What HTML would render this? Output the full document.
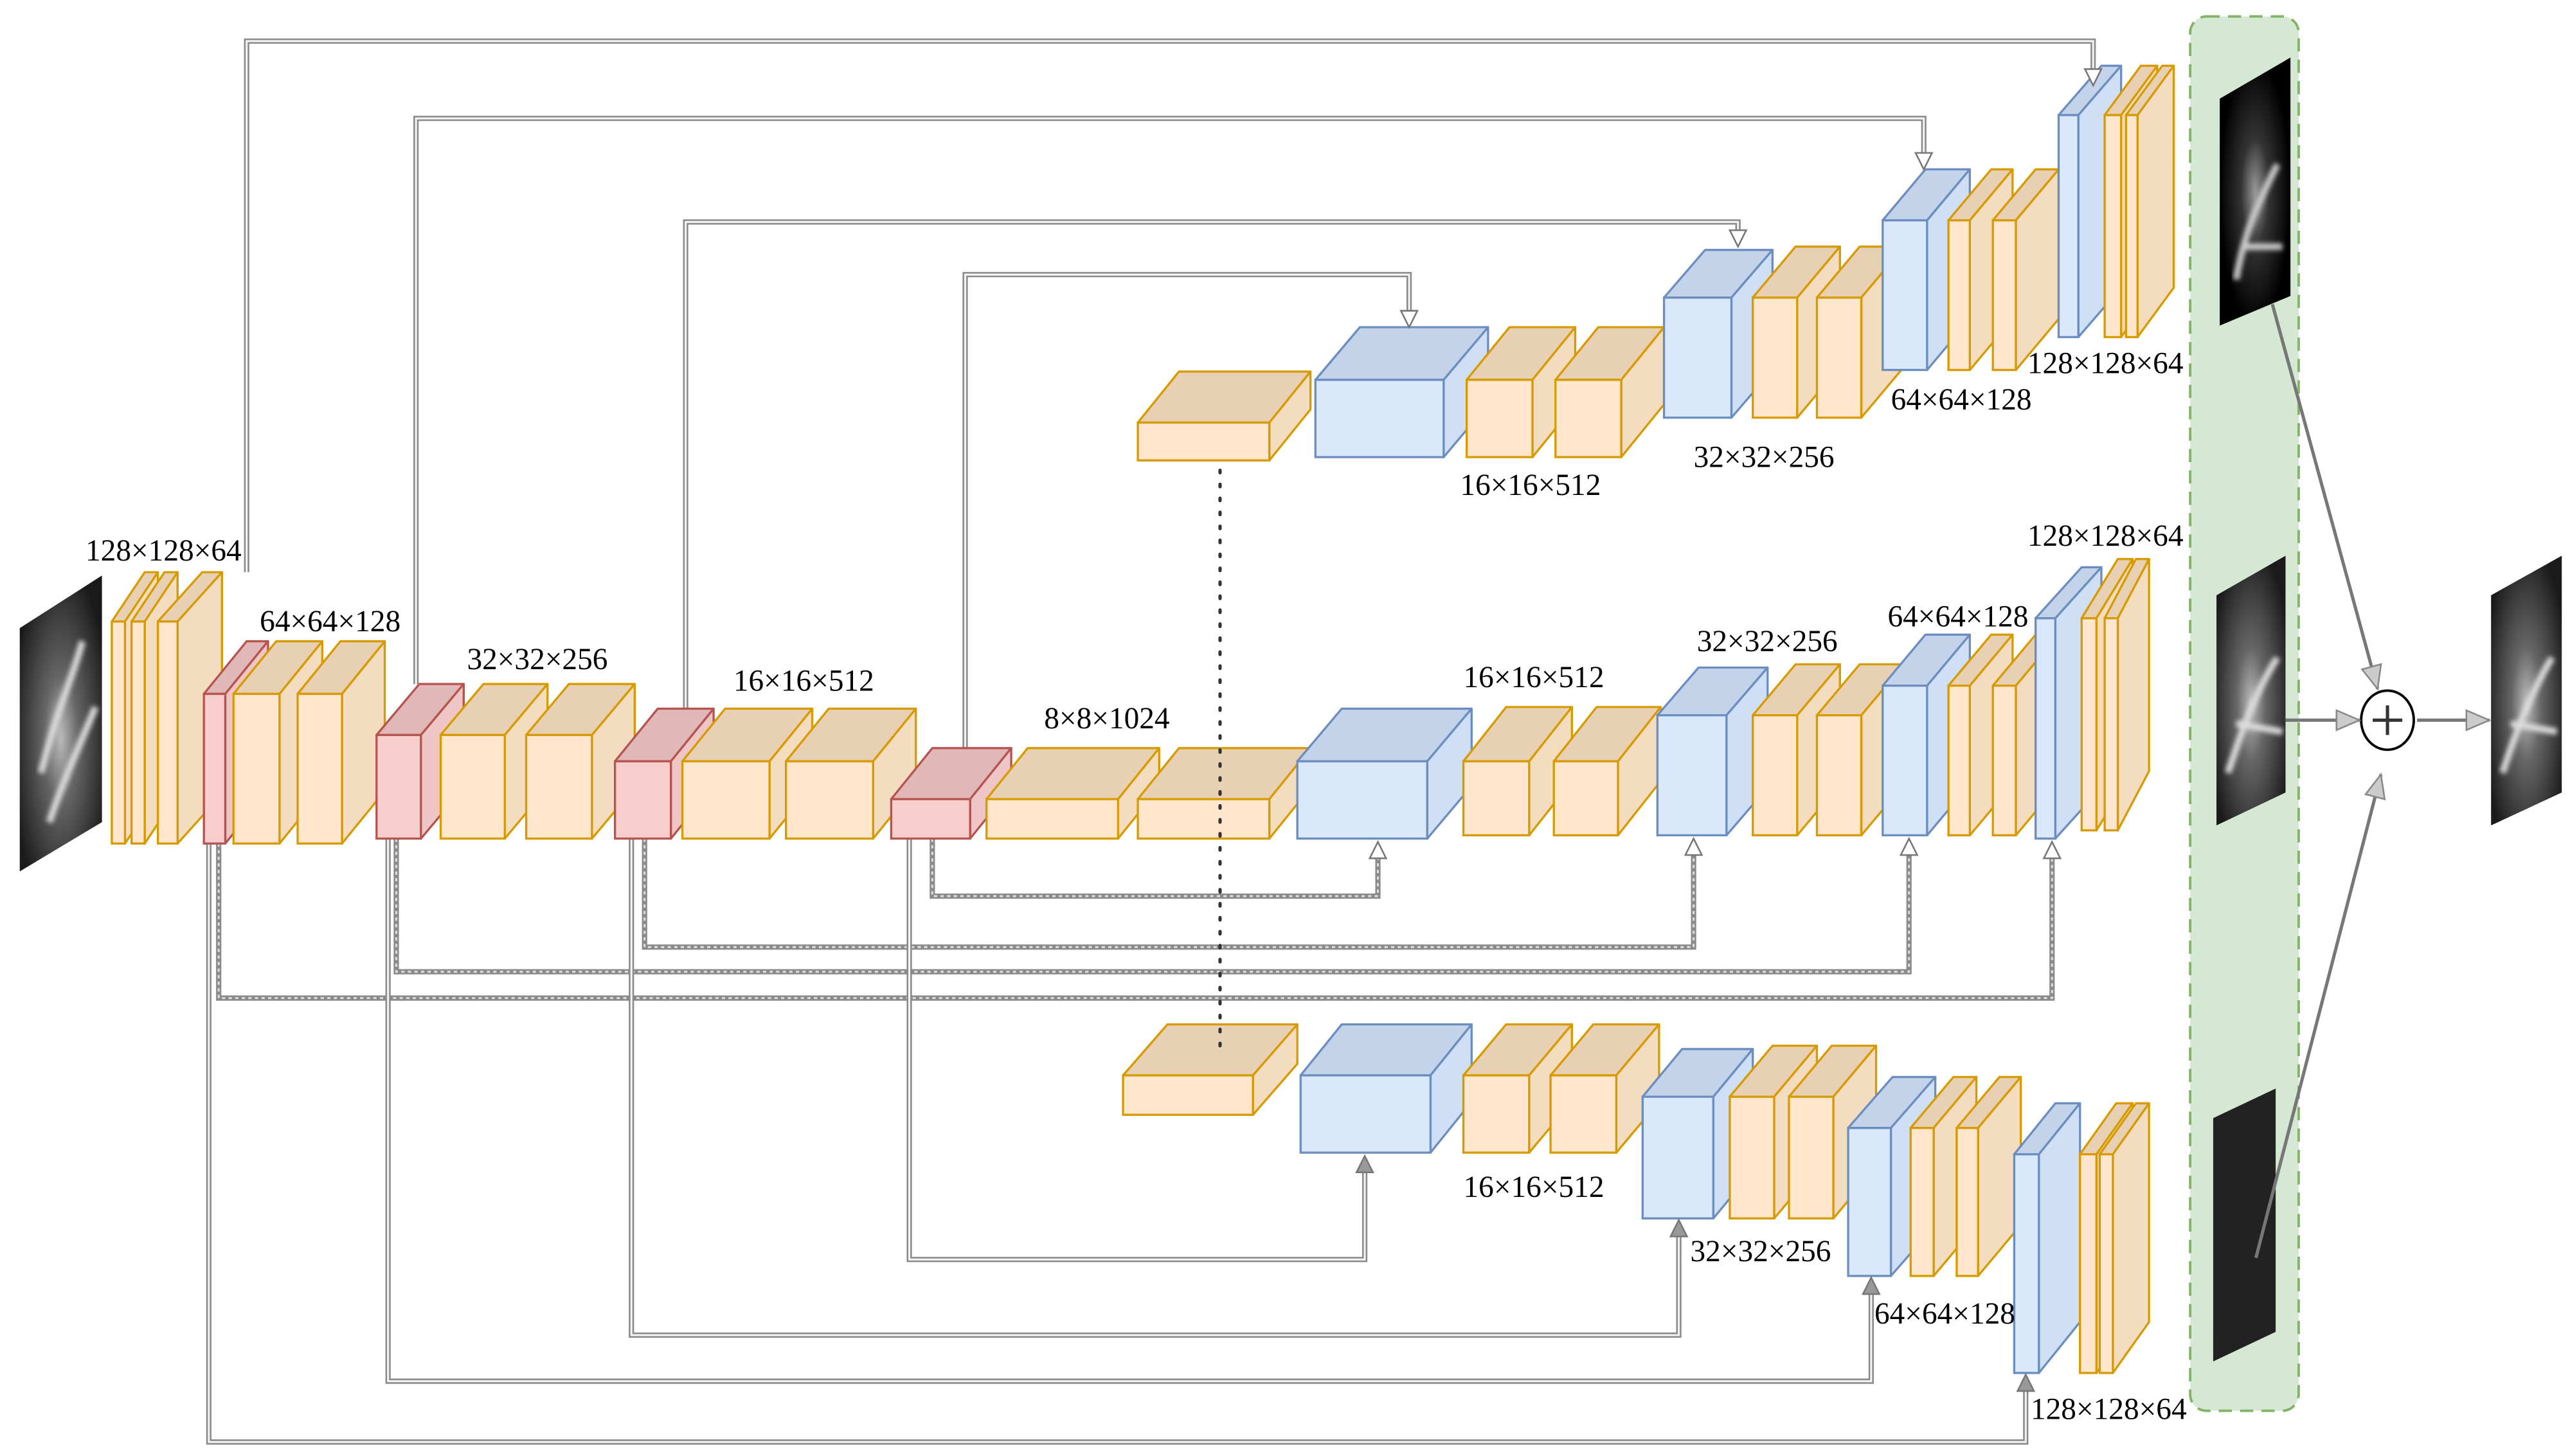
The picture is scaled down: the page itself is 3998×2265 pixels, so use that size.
<!DOCTYPE html>
<html><head><meta charset="utf-8"><style>
html,body{margin:0;padding:0;background:#fff;}
svg{display:block;}
text{font-family:"Liberation Serif",serif;font-size:18.5px;fill:#000;}
</style></head><body>
<svg id="s" width="3998" height="2265" viewBox="0 0 1563 885.5" xmlns="http://www.w3.org/2000/svg">
<defs>
<radialGradient id="car" cx="0.5" cy="0.55" r="0.6">
<stop offset="0" stop-color="#bbb"/><stop offset="0.35" stop-color="#666"/><stop offset="1" stop-color="#1a1a1a"/>
</radialGradient>
<radialGradient id="car2" cx="0.5" cy="0.5" r="0.5">
<stop offset="0" stop-color="#999"/><stop offset="0.4" stop-color="#333"/><stop offset="1" stop-color="#000"/>
</radialGradient>
<filter id="bl"><feGaussianBlur stdDeviation="1.5"/></filter>
</defs>
<rect x="1332" y="10" width="66" height="848" rx="10" fill="#d5e8d4" stroke="#82b366" stroke-width="1.5" stroke-dasharray="8,5"/>
<g id="conn"></g>
<g id="boxes"></g>
<line x1="742" y1="286" x2="742" y2="640" stroke="#333" stroke-width="2" stroke-dasharray="1.5,7" stroke-linecap="round"/>
<polygon points="12,382 62,350 62,500 12,530" fill="url(#car)"/>
<path d="M25,470 C35,430 45,410 50,390 M30,500 C40,470 50,450 58,430" stroke="#ddd" stroke-width="4" fill="none" filter="url(#bl)"/>
<polygon points="1350,60 1393,35 1393,180 1350,198" fill="url(#car2)"/>
<path d="M1360,170 C1365,140 1375,120 1385,100 M1365,150 L1388,150" stroke="#ccc" stroke-width="4" fill="none" filter="url(#bl)"/>
<polygon points="1348,362 1390,338 1390,482 1348,502" fill="url(#car)"/>
<path d="M1355,470 C1365,440 1372,420 1385,400 M1360,440 L1388,445" stroke="#ddd" stroke-width="4" fill="none" filter="url(#bl)"/>
<polygon points="1346,680 1384,662 1384,810 1346,828" fill="#222"/>
<polygon points="1515,362 1558,338 1558,482 1515,502" fill="url(#car)"/>
<path d="M1522,470 C1532,440 1540,420 1552,400 M1527,440 L1555,445" stroke="#ddd" stroke-width="4" fill="none" filter="url(#bl)"/>
<ellipse cx="1452" cy="438" rx="16" ry="18" fill="#fff" stroke="#000" stroke-width="1.5"/>
<path d="M1443,438 H1461 M1452,429 V447" stroke="#333" stroke-width="2"/>
<g id="arr"></g>
<text x="52" y="341">128×128×64</text>
<text x="158" y="384">64×64×128</text>
<text x="284" y="407">32×32×256</text>
<text x="446" y="420">16×16×512</text>
<text x="635" y="443">8×8×1024</text>
<text x="890" y="418">16×16×512</text>
<text x="1032" y="396">32×32×256</text>
<text x="1148" y="381">64×64×128</text>
<text x="1233" y="332">128×128×64</text>
<text x="888" y="301">16×16×512</text>
<text x="1030" y="284">32×32×256</text>
<text x="1150" y="249">64×64×128</text>
<text x="1233" y="227">128×128×64</text>
<text x="890" y="728">16×16×512</text>
<text x="1028" y="767">32×32×256</text>
<text x="1140" y="805">64×64×128</text>
<text x="1235" y="863">128×128×64</text>
</svg>
<script>
var NS="http://www.w3.org/2000/svg";
function el(p,t,a){var e=document.createElementNS(NS,t);for(var k in a)e.setAttribute(k,a[k]);document.getElementById(p).appendChild(e);return e;}
var C={o:["#ffe6cc","#e8d0b5","#f3dcc0","#d79b00"],b:["#dae8fc","#c3d3ea","#cfdff5","#6c8ebf"],r:["#f8cecc","#e0b8b8","#eec6c5","#b85450"]};
function box(c,x,y,w,h,dx,dy){var k=C[c];
el("boxes","polygon",{points:[x,y,x+dx,y-dy,x+w+dx,y-dy,x+w,y].join(","),fill:k[1],stroke:k[3],"stroke-width":1.3,"stroke-linejoin":"round"});
el("boxes","polygon",{points:[x+w,y,x+w+dx,y-dy,x+w+dx,y+h-dy,x+w,y+h].join(","),fill:k[2],stroke:k[3],"stroke-width":1.3,"stroke-linejoin":"round"});
el("boxes","rect",{x:x,y:y,width:w,height:h,fill:k[0],stroke:k[3],"stroke-width":1.3});}
box("o",68,378,8,135,20,30);box("o",80,378,8,135,20,30);box("o",96,378,12,135,27,30);
box("r",124,422,13,91,26,32);
box("o",142,422,28,91,26,32);box("o",181,422,27,91,26,32);
box("r",229,447,27,63,26,31);
box("o",268,447,39,63,26,31);box("o",320,447,40,63,26,31);
box("r",374,463,34,47,26,32);
box("o",415,463,53,47,26,32);box("o",478,463,53,47,26,32);
box("r",542,486,48,24,25,31);
box("o",600,486,80,24,25,31);box("o",692,486,80,24,25,31);
box("b",789,463,79,47,27,32);
box("o",890,463,40,45,26,33);box("o",945,463,39,45,26,33);
box("b",1008,435,42,73,25,29);
box("o",1066,435,27,73,26,31);box("o",1105,435,27,73,26,31);
box("b",1145,417,27,91,26,31);
box("o",1185,417,13,91,26,31);box("o",1212,417,14,91,26,31);
box("b",1238,376,12,134,28,31);
box("o",1266,376,9,129,22,36);box("o",1280,376,8,129,19,36);
box("o",692,257,80,23,25,31);
box("b",800,231,78,47,27,32);
box("o",892,231,40,47,26,32);box("o",946,231,40,47,26,32);
box("b",1012,181,41,73,25,29);
box("o",1066,181,27,73,26,31);box("o",1105,181,27,73,26,31);
box("b",1145,134,27,91,26,31);
box("o",1185,134,13,91,26,31);box("o",1212,134,14,91,26,31);
box("b",1252,70,12,135,26,30);
box("o",1280,70,10,135,22,30);box("o",1293,70,7,135,22,30);
box("o",683,654,79,24,27,31);
box("b",791,654,79,47,25,31);
box("o",890,654,40,47,26,31);box("o",943,654,40,47,26,31);
box("b",999,667,43,74,24,29);
box("o",1052,667,27,74,26,31);box("o",1088,667,27,74,26,31);
box("b",1124,686,26,90,27,31);
box("o",1162,686,14,90,26,31);box("o",1190,686,13,90,26,31);
box("b",1225,702,15,133,25,31);
box("o",1265,702,10,133,22,31);box("o",1277,702,8,133,22,31);
function line(pts,dashed){var d="M"+pts.map(function(p){return p.join(",")}).join(" L");
el("conn","path",{d:d,fill:"none",stroke:"#8a8a8a","stroke-width":3.2});
el("conn","path",{d:d,fill:"none",stroke:dashed?"#ddd":"#f4f4f4","stroke-width":1.2,"stroke-dasharray":dashed?"2,2":"none"});}
function arrow(x,y,dir,fill){var p=dir=="d"?[x-5,y-10,x+5,y-10,x,y]:[x-5,y+10,x+5,y+10,x,y];
el("arr","polygon",{points:p.join(","),fill:fill||"#fff",stroke:"#777","stroke-width":1});}
[[150,348,25,1273,42],[253,416,72,1170,93],[417,431,135,1057,140],[587,455,167,857,189]].forEach(function(a){
line([[a[0],a[1]],[a[0],a[2]],[a[3],a[2]],[a[3],a[4]]]);arrow(a[3],a[4]+10,"d");});
[[567,510,545,838,512],[392,510,576,1030,510],[241,510,591,1161,510],[133,513,607,1248,512]].forEach(function(a){
line([[a[0],a[1]],[a[0],a[2]],[a[3],a[2]],[a[3],a[4]+10]],true);arrow(a[3],a[4],"u");});
[[553,510,766,830,703],[384,510,812,1021,742],[236,510,840,1138,777],[127,513,877,1232,836]].forEach(function(a){
line([[a[0],a[1]],[a[0],a[2]],[a[3],a[2]],[a[3],a[4]+10]]);arrow(a[3],a[4],"u","#999");});
function sarrow(x1,y1,x2,y2){el("arr","line",{x1:x1,y1:y1,x2:x2,y2:y2,stroke:"#777","stroke-width":2});
var ang=Math.atan2(y2-y1,x2-x1),L=14,W=6;var bx=x2-L*Math.cos(ang),by=y2-L*Math.sin(ang);
var px=-Math.sin(ang)*W,py=Math.cos(ang)*W;
el("arr","polygon",{points:[x2,y2,bx+px,by+py,bx-px,by-py].join(","),fill:"#ccc",stroke:"#888","stroke-width":1});}
sarrow(1382,185,1446,419);sarrow(1390,438,1435,438);sarrow(1372,765,1448,471);sarrow(1470,438,1514,438);
</script>
</body></html>
